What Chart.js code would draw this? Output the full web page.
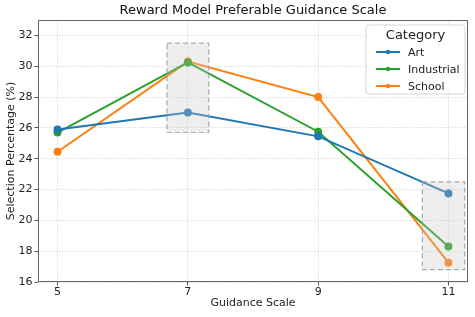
<!DOCTYPE html>
<html>
<head>
<meta charset="utf-8">
<script src="https://cdn.jsdelivr.net/npm/chart.js@4"></script>
<style>
  html, body { margin: 0; padding: 0; background: #fff; }
  #wrap { width: 475px; height: 317px; }
</style>
</head>
<body>
<div id="wrap"><canvas id="guidanceChart" width="475" height="317"></canvas></div>
<script>
// Guidance scale chart

const guidanceScales = [5, 7, 9, 11];
const artValues = [25.9, 27.0, 25.45, 21.75];
const industrialValues = [25.7, 30.25, 25.75, 18.3];
const schoolValues = [24.45, 30.3, 28.0, 17.25];
const yTicks = [16, 18, 20, 22, 24, 26, 28, 30, 32];

// highlighted regions: [xMin, xMax, yMin, yMax]
const highlightBoxes = [
    [6.68, 7.32, 25.7, 31.5],
    [10.6, 11.25, 16.8, 22.5]
];

const seriesColors = ['#1f77b4', '#2ca02c', '#ff7f0e'];
const seriesNames = ['Art', 'Industrial', 'School'];
const chartTitle = 'Reward Model Preferable Guidance Scale';

function toPoints(values) {
    return values.map((v, i) => ({ x: guidanceScales[i], y: v }));
}

// frame, highlight boxes, title and legend
const overlayPlugin = {
    id: 'overlay',
    afterDatasetsDraw(chart) {
        const { ctx, chartArea, scales } = chart;
        ctx.save();
        highlightBoxes.forEach(b => {
            const x1 = scales.x.getPixelForValue(b[0]);
            const x2 = scales.x.getPixelForValue(b[1]);
            const y1 = scales.y.getPixelForValue(b[3]);
            const y2 = scales.y.getPixelForValue(b[2]);
            ctx.fillStyle = 'rgba(200, 200, 200, 0.3)';
            ctx.fillRect(x1, y1, x2 - x1, y2 - y1);
            ctx.setLineDash([5, 3]);
            ctx.strokeStyle = 'rgba(150, 150, 150, 0.8)';
            ctx.lineWidth = 1.2;
            ctx.strokeRect(x1, y1, x2 - x1, y2 - y1);
        });
        ctx.setLineDash([]);
        ctx.strokeStyle = '#666';
        ctx.lineWidth = 1;
        ctx.strokeRect(chartArea.left + 0.5, chartArea.top + 0.5,
            chartArea.right - chartArea.left - 1, chartArea.bottom - chartArea.top - 1);

        // title, centred on the plot area
        ctx.fillStyle = '#111';
        ctx.font = '13px "DejaVu Sans"';
        ctx.textAlign = 'center';
        ctx.textBaseline = 'middle';
        ctx.fillText(chartTitle, (chartArea.left + chartArea.right) / 2, 11);

        // legend in the upper right corner
        const w = 99, h = 69;
        const lx = chartArea.right - w - 3, ly = chartArea.top + 5;
        ctx.fillStyle = 'rgba(255,255,255,0.85)';
        ctx.strokeStyle = '#d6d6d6';
        ctx.beginPath();
        ctx.roundRect(lx, ly, w, h, 3);
        ctx.fill();
        ctx.stroke();
        ctx.fillStyle = '#222';
        ctx.font = '13px "DejaVu Sans"';
        ctx.fillText('Category', lx + w / 2, ly + 11);
        ctx.font = '11px "DejaVu Sans"';
        ctx.textAlign = 'left';
        seriesNames.forEach((name, i) => {
            const yy = ly + 27 + i * 17;
            ctx.strokeStyle = seriesColors[i];
            ctx.lineWidth = 2;
            ctx.beginPath();
            ctx.moveTo(lx + 10, yy);
            ctx.lineTo(lx + 34, yy);
            ctx.stroke();
            ctx.fillStyle = seriesColors[i];
            ctx.beginPath();
            ctx.arc(lx + 22, yy, 2.3, 0, Math.PI * 2);
            ctx.fill();
            ctx.fillStyle = '#222';
            ctx.fillText(name, lx + 42, yy + 1);
        });
        ctx.restore();
    }
};

const ctx = document.getElementById('guidanceChart').getContext('2d');
const guidanceChart = new Chart(ctx, {
    type: 'line',
    data: {
        datasets: [artValues, industrialValues, schoolValues].map((vals, i) => ({
            label: seriesNames[i],
            data: toPoints(vals),
            borderColor: seriesColors[i],
            backgroundColor: seriesColors[i],
            borderWidth: 2,
            pointRadius: 3,
            pointHoverRadius: 3,
            tension: 0
        }))
    },
    options: {
        responsive: false,
        animation: false,
        layout: { padding: { top: 20, right: 7, bottom: 0, left: 0 } },
        plugins: {
            legend: { display: false },
            tooltip: { enabled: false },
            title: { display: false }
        },
        scales: {
            x: {
                type: 'linear',
                min: 4.7,
                max: 11.3,
                afterBuildTicks: (scale) => { scale.ticks = guidanceScales.map(v => ({ value: v })); },
                afterFit: (scale) => { scale.height = 35; },
                ticks: { color: '#222', font: { family: 'DejaVu Sans', size: 11 }, padding: 0 },
                grid: { color: 'rgba(205,205,205,0.7)', tickLength: 3.5, tickColor: '#555' },
                border: { display: false, dash: [1.5, 1.5] },
                title: { display: true, text: 'Guidance Scale', color: '#222',
                    font: { family: 'DejaVu Sans', size: 11 }, padding: { top: 0, bottom: 7 } }
            },
            y: {
                min: 16,
                max: 33,
                afterBuildTicks: (scale) => { scale.ticks = yTicks.map(v => ({ value: v })); },
                afterFit: (scale) => { scale.width = 38; },
                ticks: { color: '#222', font: { family: 'DejaVu Sans', size: 11 }, padding: 2 },
                grid: { color: 'rgba(205,205,205,0.7)', tickLength: 3.5, tickColor: '#555' },
                border: { display: false, dash: [1.5, 1.5] },
                title: { display: true, text: 'Selection Percentage (%)', color: '#222',
                    font: { family: 'DejaVu Sans', size: 11 }, padding: { top: 5, bottom: 0 } }
            }
        }
    },
    plugins: [overlayPlugin]
});
</script>
</body>
</html>
